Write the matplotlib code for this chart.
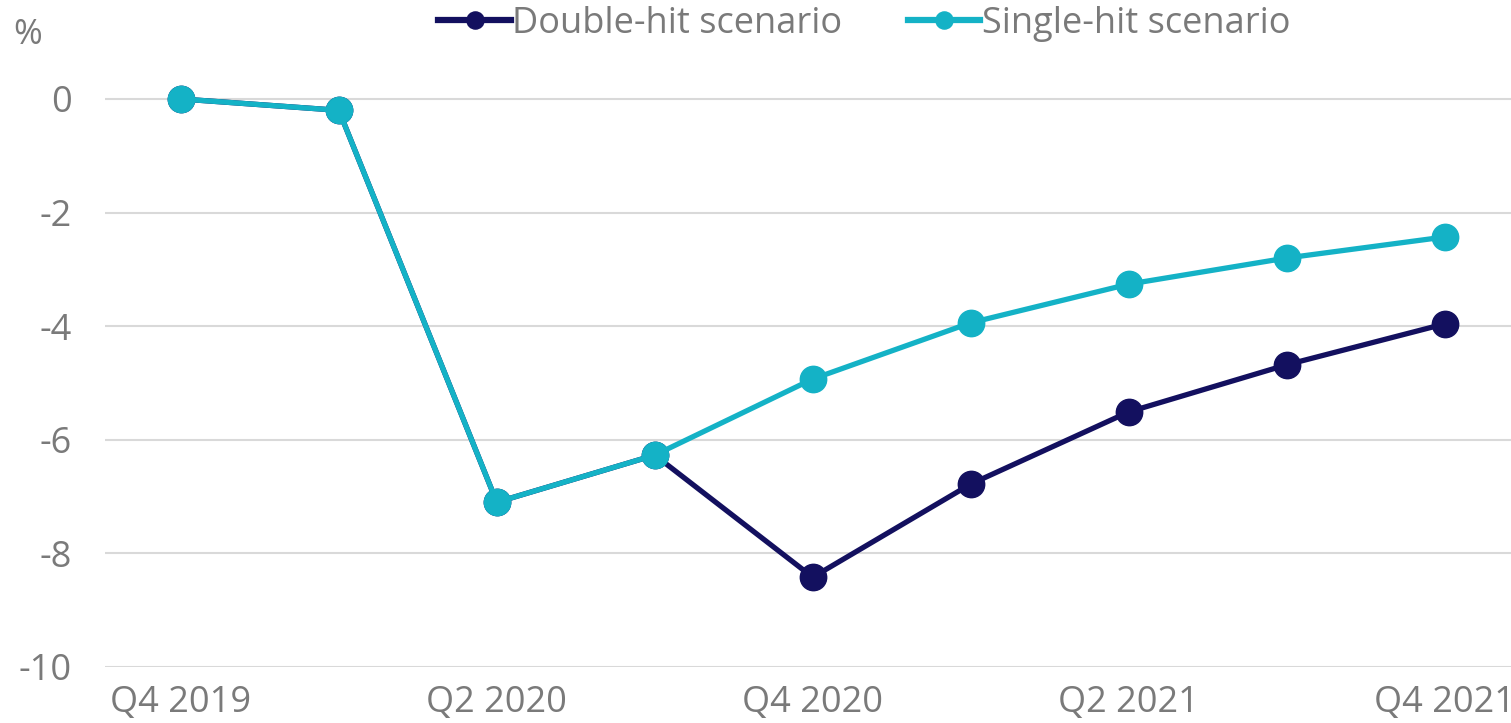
import matplotlib
matplotlib.use('Agg')
import matplotlib.pyplot as plt

# ── Data ──────────────────────────────────────────────────────────────
quarters = ['Q4 2019', 'Q1 2020', 'Q2 2020', 'Q3 2020', 'Q4 2020',
            'Q1 2021', 'Q2 2021', 'Q3 2021', 'Q4 2021']
double_hit = [0.0, -0.2, -7.1, -6.27, -8.42, -6.78, -5.51, -4.68, -3.96]
single_hit = [0.0, -0.2, -7.1, -6.27, -4.93, -3.94, -3.26, -2.80, -2.43]
yticks = [0, -2, -4, -6, -8, -10]

# ── Style ─────────────────────────────────────────────────────────────
NAVY = '#13105f'
CYAN = '#14b2c6'
TEXT = '#7a7a7a'
GRID = '#d9d9d9'

plt.rcParams['font.family'] = ['Open Sans', 'DejaVu Sans']

fig = plt.figure(figsize=(15.11, 7.23), dpi=100)
ax = fig.add_axes([0.0695, 0.0775, 0.9305, 0.8249])

x = list(range(len(quarters)))
ax.plot(x, double_hit, color=NAVY, lw=3.8, marker='o', ms=19,
        label='Double-hit scenario', zorder=3)
ax.plot(x, single_hit, color=CYAN, lw=3.8, marker='o', ms=19,
        label='Single-hit scenario', zorder=4)

ax.set_xlim(-0.48, 8.42)
ax.set_ylim(-10, 0.5)
ax.set_yticks(yticks)
ax.set_yticklabels([str(v) for v in yticks])
ax.set_xticks(x[::2])
ax.set_xticklabels(quarters[::2])

ax.grid(axis='y', color=GRID, lw=1.5)
ax.set_axisbelow(True)
for sp in ax.spines.values():
    sp.set_visible(False)
ax.tick_params(axis='both', length=0, colors=TEXT, labelsize=26)
ax.tick_params(axis='y', pad=24)
ax.tick_params(axis='x', pad=13)

fig.text(0.009, 0.952, '%', color=TEXT, fontsize=25, va='center')

leg = fig.legend(loc='center', bbox_to_anchor=(0.572, 0.967), ncol=2,
                 frameon=False, fontsize=26, handlelength=2.0,
                 handletextpad=0.05, columnspacing=1.8, markerscale=0.65)
for t in leg.get_texts():
    t.set_color(TEXT)
for h in leg.legend_handles:
    h.set_linewidth(4.5)

fig.savefig('out.png', dpi=100)
